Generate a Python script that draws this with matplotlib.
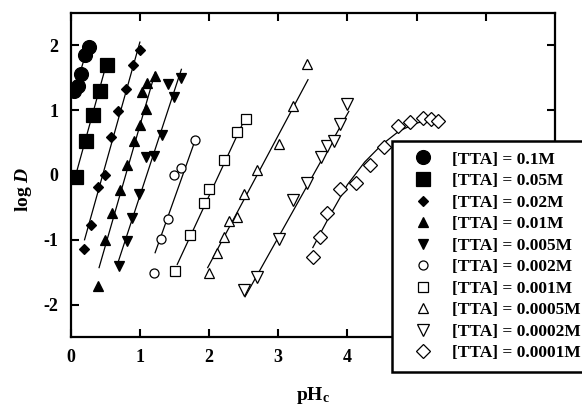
import matplotlib
matplotlib.use("Agg")
import matplotlib.pyplot as plt

plt.rcParams["font.family"] = "Liberation Serif"
plt.rcParams["font.weight"] = "bold"
plt.rcParams["axes.labelweight"] = "bold"
plt.rcParams["axes.unicode_minus"] = False
plt.rcParams["mathtext.fontset"] = "custom"
plt.rcParams["mathtext.rm"] = "Liberation Serif:bold"
plt.rcParams["mathtext.it"] = "Liberation Serif:italic:bold"
plt.rcParams["mathtext.bf"] = "Liberation Serif:bold"

labels = ["[TTA] = 0.1M", "[TTA] = 0.05M", "[TTA] = 0.02M", "[TTA] = 0.01M",
          "[TTA] = 0.005M", "[TTA] = 0.002M", "[TTA] = 0.001M",
          "[TTA] = 0.0005M", "[TTA] = 0.0002M", "[TTA] = 0.0001M"]

# measured points (pHc, log D)
x_01 = [0.05, 0.11, 0.15, 0.21, 0.26]
y_01 = [1.29, 1.38, 1.56, 1.85, 1.97]
x_005 = [0.07, 0.22, 0.32, 0.43, 0.52]
y_005 = [-0.03, 0.52, 0.92, 1.3, 1.7]
x_002 = [0.19, 0.29, 0.4, 0.5, 0.58, 0.68, 0.8, 0.9, 1.0]
y_002 = [-1.14, -0.77, -0.18, 0.0, 0.58, 0.98, 1.32, 1.7, 1.93]
x_001 = [0.4, 0.49, 0.6, 0.71, 0.81, 0.91, 1.0, 1.09, 1.03, 1.1, 1.22]
y_001 = [-1.72, -1.0, -0.59, -0.23, 0.16, 0.52, 0.77, 1.02, 1.28, 1.42, 1.53]
x_0005 = [0.7, 0.81, 0.89, 0.99, 1.09, 1.21, 1.32, 1.5, 1.41, 1.6]
y_0005 = [-1.41, -1.02, -0.67, -0.3, 0.27, 0.29, 0.61, 1.21, 1.41, 1.5]
x_0002 = [1.21, 1.31, 1.41, 1.49, 1.6, 1.8]
y_0002 = [-1.51, -0.99, -0.68, 0.0, 0.1, 0.54]
x_0001 = [1.51, 1.72, 1.92, 2.0, 2.21, 2.41, 2.53]
y_0001 = [-1.48, -0.93, -0.44, -0.21, 0.23, 0.66, 0.87]
x_00005 = [2.0, 2.12, 2.21, 2.29, 2.41, 2.51, 2.7, 3.01, 3.22, 3.42]
y_00005 = [-1.51, -1.2, -0.96, -0.71, -0.65, -0.3, 0.08, 0.48, 1.07, 1.71]
x_00002 = [2.5, 2.69, 3.01, 3.22, 3.42, 3.62, 3.7, 3.81, 3.9, 4.0]
y_00002 = [-1.77, -1.57, -0.99, -0.39, -0.12, 0.27, 0.45, 0.52, 0.78, 1.09]
x_00001 = [3.5, 3.61, 3.71, 3.9, 4.12, 4.33, 4.53, 4.73, 4.9, 5.09, 5.21, 5.31]
y_00001 = [-1.26, -0.96, -0.59, -0.22, -0.12, 0.16, 0.43, 0.76, 0.82, 0.88, 0.87, 0.84]

# fitted lines
fit_x = [[0.04, 0.27], [0.06, 0.5], [0.2, 1.0], [0.41, 1.22], [0.69, 1.6],
         [1.22, 1.8], [1.54, 2.48], [1.98, 3.43], [2.52, 4.02],
         [3.5, 3.75, 4.0, 4.25, 4.5, 4.75, 5.0, 5.2, 5.35]]
fit_y = [[1.25, 2.05], [-0.05, 1.65], [-1.0, 2.05], [-1.43, 1.58], [-1.33, 1.63],
         [-1.2, 0.54], [-1.38, 0.78], [-1.43, 1.47], [-1.88, 0.98],
         [-1.12, -0.62, -0.15, 0.2, 0.47, 0.68, 0.8, 0.85, 0.87]]

xs = [x_01, x_005, x_002, x_001, x_0005, x_0002, x_0001, x_00005, x_00002, x_00001]
ys = [y_01, y_005, y_002, y_001, y_0005, y_0002, y_0001, y_00005, y_00002, y_00001]
markers = ["o", "s", "D", "^", "v", "o", "s", "^", "v", "D"]
sizes = [10, 10, 5.5, 7, 7, 6.5, 7, 7, 8.5, 7]
filled = [True] * 5 + [False] * 5

xticks = [0, 1, 2, 3, 4, 5, 6]
xtick_labels = ["0", "1", "2", "3", "4", "", ""]  # 5 and 6 sit behind the legend
yticks = [-2, -1, 0, 1, 2]

fig, ax = plt.subplots(figsize=(5.82, 4.05), dpi=100)
fig.subplots_adjust(left=0.1215, right=0.9535, top=0.968, bottom=0.168)

for fx, fy in zip(fit_x, fit_y):
    ax.plot(fx, fy, color="black", lw=0.9, zorder=2)

for i in range(10):
    ax.plot(xs[i], ys[i], linestyle="none", marker=markers[i], ms=sizes[i],
            mfc="black" if filled[i] else "white", mec="black", mew=0.9,
            label=labels[i], zorder=3)

ax.set_xlim(0, 7)
ax.set_ylim(-2.5, 2.5)
ax.set_xticks(xticks)
ax.set_xticklabels(xtick_labels)
ax.set_yticks(yticks)
ax.tick_params(direction="in", length=6, width=1.5, top=True, right=True,
               labelsize=13, pad=9)
for s in ax.spines.values():
    s.set_linewidth(1.6)

ax.set_xlabel(r"pH$_\mathregular{c}$", fontsize=14, fontweight="bold")
ax.set_ylabel(r"log $\mathit{D}$", fontsize=14, fontweight="bold")
ax.xaxis.set_label_coords(0.5, -0.147)
ax.yaxis.set_label_coords(-0.076, 0.457)

leg = ax.legend(loc="upper left", bbox_to_anchor=(0.663, 0.605), fontsize=12.5,
                frameon=True, fancybox=False, edgecolor="black", framealpha=1,
                labelspacing=0.31, handlelength=2.36, handletextpad=0.49,
                borderpad=0.6, borderaxespad=0)
leg.get_frame().set_linewidth(1.8)
leg.set_zorder(10)

fig.savefig("out.png", dpi=100)
